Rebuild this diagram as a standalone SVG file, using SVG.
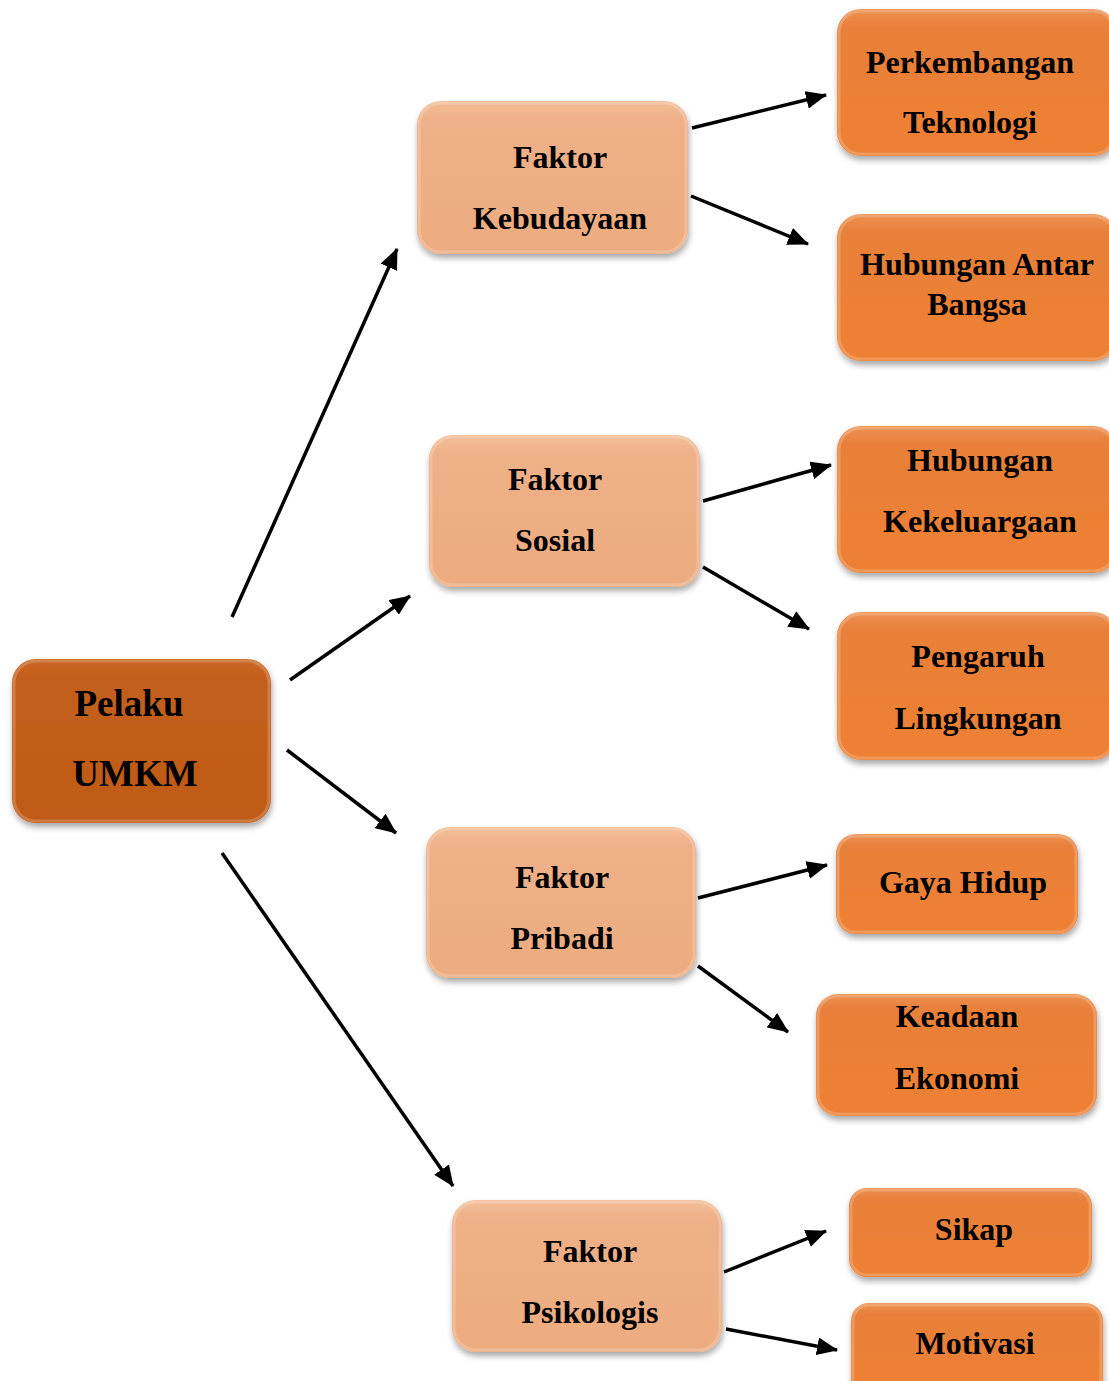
<svg xmlns="http://www.w3.org/2000/svg" width="1109" height="1381" viewBox="0 0 1109 1381">
<style>
text{font-family:"Liberation Serif","Times New Roman",serif;font-weight:bold;fill:#000;text-anchor:middle}
.t{font-size:32px}
.m{font-size:37px}
.edge{stroke:#000;stroke-width:3.5;fill:none;marker-end:url(#ah)}
.main{fill:url(#gMain);filter:url(#sh)}
.light{fill:url(#gLight);filter:url(#sh)}
.dark{fill:url(#gDark);filter:url(#sh)}
.hl{fill:none;stroke:#fff;stroke-opacity:0.2;stroke-width:3}
</style>
<defs>
<linearGradient id="gMain" x1="0" y1="0" x2="0" y2="1">
<stop offset="0" stop-color="#CA6722"/><stop offset="0.12" stop-color="#C35F1C"/><stop offset="1" stop-color="#C05A14"/>
</linearGradient>
<linearGradient id="gLight" x1="0" y1="0" x2="0" y2="1">
<stop offset="0" stop-color="#F3BE98"/><stop offset="0.12" stop-color="#EEB088"/><stop offset="1" stop-color="#EDAC7F"/>
</linearGradient>
<linearGradient id="gDark" x1="0" y1="0" x2="0" y2="1">
<stop offset="0" stop-color="#EE9152"/><stop offset="0.12" stop-color="#E8803A"/><stop offset="1" stop-color="#EE8033"/>
</linearGradient>
<filter id="sh" x="-10%" y="-10%" width="125%" height="130%">
<feDropShadow dx="1" dy="4" stdDeviation="3" flood-color="#000" flood-opacity="0.35"/>
</filter>
<marker id="ah" markerUnits="userSpaceOnUse" markerWidth="22" markerHeight="18" refX="20" refY="9" orient="auto">
<path d="M0,0 L21,9 L0,18 Z" fill="#000"/>
</marker>
</defs>

<g id="connectors">
<line class="edge" x1="232" y1="617" x2="397" y2="249"/>
<line class="edge" x1="290" y1="680" x2="410" y2="596"/>
<line class="edge" x1="287" y1="750" x2="396" y2="833"/>
<line class="edge" x1="222" y1="853" x2="453" y2="1186"/>
<line class="edge" x1="692" y1="128" x2="826" y2="95"/>
<line class="edge" x1="691" y1="196" x2="808" y2="244"/>
<line class="edge" x1="703" y1="501" x2="831" y2="465"/>
<line class="edge" x1="703" y1="567" x2="809" y2="629"/>
<line class="edge" x1="698" y1="898" x2="827" y2="865"/>
<line class="edge" x1="698" y1="966" x2="788" y2="1032"/>
<line class="edge" x1="724" y1="1272" x2="826" y2="1231"/>
<line class="edge" x1="726" y1="1329" x2="837" y2="1350"/>
</g>

<g id="node-pelaku">
<rect class="main" x="12" y="659" width="259" height="164" rx="24"/>
<rect class="hl" x="14" y="661" width="255" height="160" rx="22"/>
<text class="m" x="129" y="716">Pelaku</text>
<text class="m" x="135" y="786">UMKM</text>
</g>

<g id="node-kebudayaan">
<rect class="light" x="417" y="101" width="271" height="153" rx="24"/>
<rect class="hl" x="419" y="103" width="267" height="149" rx="22"/>
<text class="t" x="560" y="168">Faktor</text>
<text class="t" x="560" y="229">Kebudayaan</text>
</g>

<g id="node-sosial">
<rect class="light" x="429" y="435" width="271" height="152" rx="24"/>
<rect class="hl" x="431" y="437" width="267" height="148" rx="22"/>
<text class="t" x="555" y="490">Faktor</text>
<text class="t" x="555" y="551">Sosial</text>
</g>

<g id="node-pribadi">
<rect class="light" x="426" y="827" width="270" height="151" rx="24"/>
<rect class="hl" x="428" y="829" width="266" height="147" rx="22"/>
<text class="t" x="562" y="888">Faktor</text>
<text class="t" x="562" y="949">Pribadi</text>
</g>

<g id="node-psikologis">
<rect class="light" x="452" y="1200" width="270" height="152" rx="24"/>
<rect class="hl" x="454" y="1202" width="266" height="148" rx="22"/>
<text class="t" x="590" y="1262">Faktor</text>
<text class="t" x="590" y="1323">Psikologis</text>
</g>

<g id="node-teknologi">
<rect class="dark" x="837" y="9" width="280" height="147" rx="24"/>
<rect class="hl" x="839" y="11" width="276" height="143" rx="22"/>
<text class="t" x="970" y="73">Perkembangan</text>
<text class="t" x="970" y="133">Teknologi</text>
</g>

<g id="node-bangsa">
<rect class="dark" x="837" y="214" width="280" height="147" rx="24"/>
<rect class="hl" x="839" y="216" width="276" height="143" rx="22"/>
<text class="t" x="977" y="275">Hubungan Antar</text>
<text class="t" x="977" y="315">Bangsa</text>
</g>

<g id="node-kekeluargaan">
<rect class="dark" x="837" y="426" width="280" height="147" rx="24"/>
<rect class="hl" x="839" y="428" width="276" height="143" rx="22"/>
<text class="t" x="980" y="471">Hubungan</text>
<text class="t" x="980" y="532">Kekeluargaan</text>
</g>

<g id="node-lingkungan">
<rect class="dark" x="837" y="612" width="280" height="148" rx="24"/>
<rect class="hl" x="839" y="614" width="276" height="144" rx="22"/>
<text class="t" x="978" y="667">Pengaruh</text>
<text class="t" x="978" y="729">Lingkungan</text>
</g>

<g id="node-gaya">
<rect class="dark" x="836" y="834" width="242" height="100" rx="20"/>
<rect class="hl" x="838" y="836" width="238" height="96" rx="18"/>
<text class="t" x="963" y="893">Gaya Hidup</text>
</g>

<g id="node-ekonomi">
<rect class="dark" x="816" y="994" width="281" height="122" rx="22"/>
<rect class="hl" x="818" y="996" width="277" height="118" rx="20"/>
<text class="t" x="957" y="1027">Keadaan</text>
<text class="t" x="957" y="1089">Ekonomi</text>
</g>

<g id="node-sikap">
<rect class="dark" x="849" y="1188" width="243" height="89" rx="18"/>
<rect class="hl" x="851" y="1190" width="239" height="85" rx="16"/>
<text class="t" x="974" y="1240">Sikap</text>
</g>

<g id="node-motivasi">
<rect class="dark" x="851" y="1303" width="252" height="95" rx="18"/>
<rect class="hl" x="853" y="1305" width="248" height="91" rx="16"/>
<text class="t" x="975" y="1354">Motivasi</text>
</g>
</svg>
